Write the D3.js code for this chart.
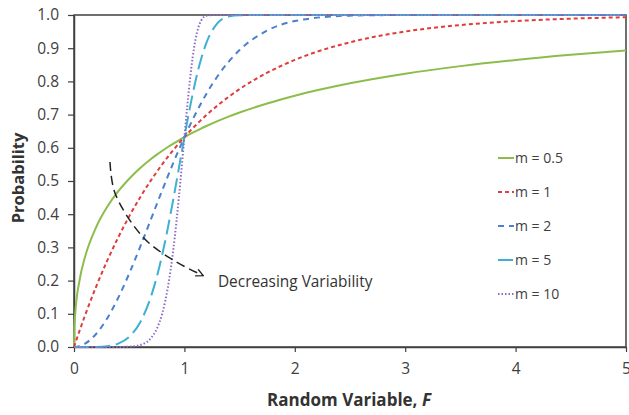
<!DOCTYPE html>
<html><head><meta charset="utf-8">
<script src="https://cdn.jsdelivr.net/npm/d3@7"></script>
<style>body{margin:0;background:#fff}svg{display:block}</style>
</head><body>
<svg id="c" width="629" height="415"></svg>
<script>
const xs = [0, 0.002, 0.01, 0.05, 0.1, 0.2, 0.3, 0.4, 0.5, 0.6, 0.7, 0.75, 0.8, 0.85, 0.9, 0.95, 1.0, 1.025, 1.05, 1.075, 1.1, 1.15, 1.2, 1.3, 1.4, 1.5, 1.75, 2, 2.5, 3, 3.5, 4, 4.5, 5];
const m05 = [0, 0.0437, 0.0952, 0.2003, 0.2711, 0.3606, 0.4217, 0.4687, 0.5069, 0.5391, 0.5669, 0.5794, 0.5911, 0.6023, 0.6128, 0.6227, 0.6321, 0.6367, 0.6411, 0.6454, 0.6496, 0.6578, 0.6656, 0.6803, 0.6937, 0.7062, 0.7336, 0.7569, 0.7942, 0.8231, 0.8460, 0.8647, 0.8801, 0.8931];
const m1 = [0, 0.0020, 0.0100, 0.0488, 0.0952, 0.1813, 0.2592, 0.3297, 0.3935, 0.4512, 0.5034, 0.5276, 0.5507, 0.5726, 0.5934, 0.6133, 0.6321, 0.6412, 0.6501, 0.6587, 0.6671, 0.6834, 0.6988, 0.7275, 0.7534, 0.7769, 0.8262, 0.8647, 0.9179, 0.9502, 0.9698, 0.9817, 0.9889, 0.9933];
const m2 = [0, 0, 0.0001, 0.0025, 0.0100, 0.0392, 0.0861, 0.1479, 0.2212, 0.3023, 0.3874, 0.4302, 0.4727, 0.5144, 0.5551, 0.5942, 0.6321, 0.6503, 0.6680, 0.6851, 0.7018, 0.7335, 0.7631, 0.8155, 0.8591, 0.8946, 0.9532, 0.9817, 0.9981, 0.9999, 1, 1, 1, 1];
const m5 = [0, 0, 0, 0, 0, 0.0003, 0.0024, 0.0101, 0.0308, 0.0748, 0.1547, 0.2112, 0.2794, 0.3584, 0.4459, 0.5387, 0.6321, 0.6774, 0.7209, 0.7620, 0.8002, 0.8662, 0.9169, 0.9756, 0.9954, 0.9995, 1, 1, 1, 1, 1, 1, 1, 1];
const m10 = [0, 0, 0, 0, 0, 0, 0, 0.0001, 0.0010, 0.0060, 0.0279, 0.0547, 0.1018, 0.1787, 0.2944, 0.4505, 0.6321, 0.7220, 0.8038, 0.8727, 0.9252, 0.9825, 0.9980, 1, 1, 1, 1, 1, 1, 1, 1, 1, 1, 1];
const seriesNames = ["m = 0.5", "m = 1", "m = 2", "m = 5", "m = 10"];
const seriesValues = [m05, m1, m2, m5, m10];
const seriesColors = ["#8cbd4b", "#e03c3c", "#4b80cc", "#3fb0d4", "#8c6cc4"];
const seriesDash = [null, "4,3", "6,5", "15,6", "1.5,2"];
const xTicks = [0, 1, 2, 3, 4, 5];
const yTicks = [0, 0.1, 0.2, 0.3, 0.4, 0.5, 0.6, 0.7, 0.8, 0.9, 1.0];
const arrowX = [0.326, 0.371, 0.625, 0.897, 1.17];
const arrowY = [0.557, 0.464, 0.331, 0.262, 0.215];

const svg = d3.select("#c");
const L = 74, R = 626, T = 15, B = 347;
const x = d3.scaleLinear().domain([0, 5]).range([L, R]);
const y = d3.scaleLinear().domain([0, 1]).range([B, T]);
const font = "'Open Sans', sans-serif";
const axisCol = "#404040";

// frame
svg.append("rect").attr("x", L).attr("y", T).attr("width", R - L).attr("height", B - T)
  .attr("fill", "none").attr("stroke", axisCol).attr("stroke-width", 1.5);

const xa = svg.append("g").attr("transform", `translate(0,${B})`)
  .call(d3.axisBottom(x).tickValues(xTicks).tickFormat(d3.format("d")).tickSize(5).tickSizeOuter(0));
const ya = svg.append("g").attr("transform", `translate(${L},0)`)
  .call(d3.axisLeft(y).tickValues(yTicks).tickFormat(d3.format(".1f")).tickSize(6).tickSizeOuter(0));
[xa, ya].forEach(a => {
  a.select(".domain").attr("stroke", axisCol).attr("stroke-width", 1.5);
  a.selectAll(".tick line").attr("stroke", axisCol).attr("stroke-width", 1.2);
  a.selectAll("text").attr("fill", "#404040").style("font-family", font).style("font-size", "15.5px");
});
xa.selectAll("text").attr("y", 22).attr("dy", "0.35em");
ya.selectAll("text").attr("x", -15);

// lines
const line = d3.line().x(d => x(d[0])).y(d => y(d[1])).curve(d3.curveMonotoneX);
const g = svg.append("g");
seriesValues.forEach((vals, i) => {
  g.append("path").datum(xs.map((v, j) => [v, vals[j]]))
    .attr("d", line).attr("fill", "none")
    .attr("stroke", seriesColors[i]).attr("stroke-width", 2)
    .attr("stroke-dasharray", seriesDash[i]);
});

// legend
const lg = svg.append("g");
seriesNames.forEach((n, i) => {
  const yy = 158 + i * 34;
  lg.append("line").attr("x1", 498).attr("x2", 514).attr("y1", yy).attr("y2", yy)
    .attr("stroke", seriesColors[i]).attr("stroke-width", 2).attr("stroke-dasharray", seriesDash[i]);
  lg.append("text").attr("x", 515).attr("y", yy).attr("dy", "0.35em")
    .attr("fill", "#404040").style("font-family", font).style("font-size", "14px").text(n);
});

// annotation arrow
svg.append("defs").append("marker").attr("id", "ah").attr("viewBox", "0 0 10 10")
  .attr("refX", 9).attr("refY", 5).attr("markerWidth", 9).attr("markerHeight", 9)
  .attr("markerUnits", "userSpaceOnUse").attr("orient", "auto")
  .append("path").attr("d", "M1,1 L9,5 L1,9").attr("fill", "none").attr("stroke", "#222").attr("stroke-width", 1.5);
svg.append("path").datum(arrowX.map((v, j) => [v, arrowY[j]]))
  .attr("d", d3.line().x(d => x(d[0])).y(d => y(d[1])).curve(d3.curveCatmullRom))
  .attr("fill", "none").attr("stroke", "#222").attr("stroke-width", 1.5)
  .attr("stroke-dasharray", "9,5").attr("marker-end", "url(#ah)");
svg.append("text").attr("x", x(1.304)).attr("y", y(0.198)).attr("dy", "0.35em")
  .attr("fill", "#333").style("font-family", font).style("font-size", "15.4px").text("Decreasing Variability");

// titles
const xt = svg.append("text").attr("x", 349).attr("y", 400).attr("dy", "0.35em").attr("text-anchor", "middle")
  .attr("fill", "#333").style("font-family", font).style("font-size", "17px").style("font-weight", "bold");
xt.append("tspan").text("Random Variable, ");
xt.append("tspan").style("font-style", "italic").text("F");
svg.append("text").attr("transform", `translate(18,178) rotate(-90)`).attr("dy", "0.35em").attr("text-anchor", "middle")
  .attr("fill", "#333").style("font-family", font).style("font-size", "16.5px").style("font-weight", "bold").text("Probability");
</script>
</body></html>
